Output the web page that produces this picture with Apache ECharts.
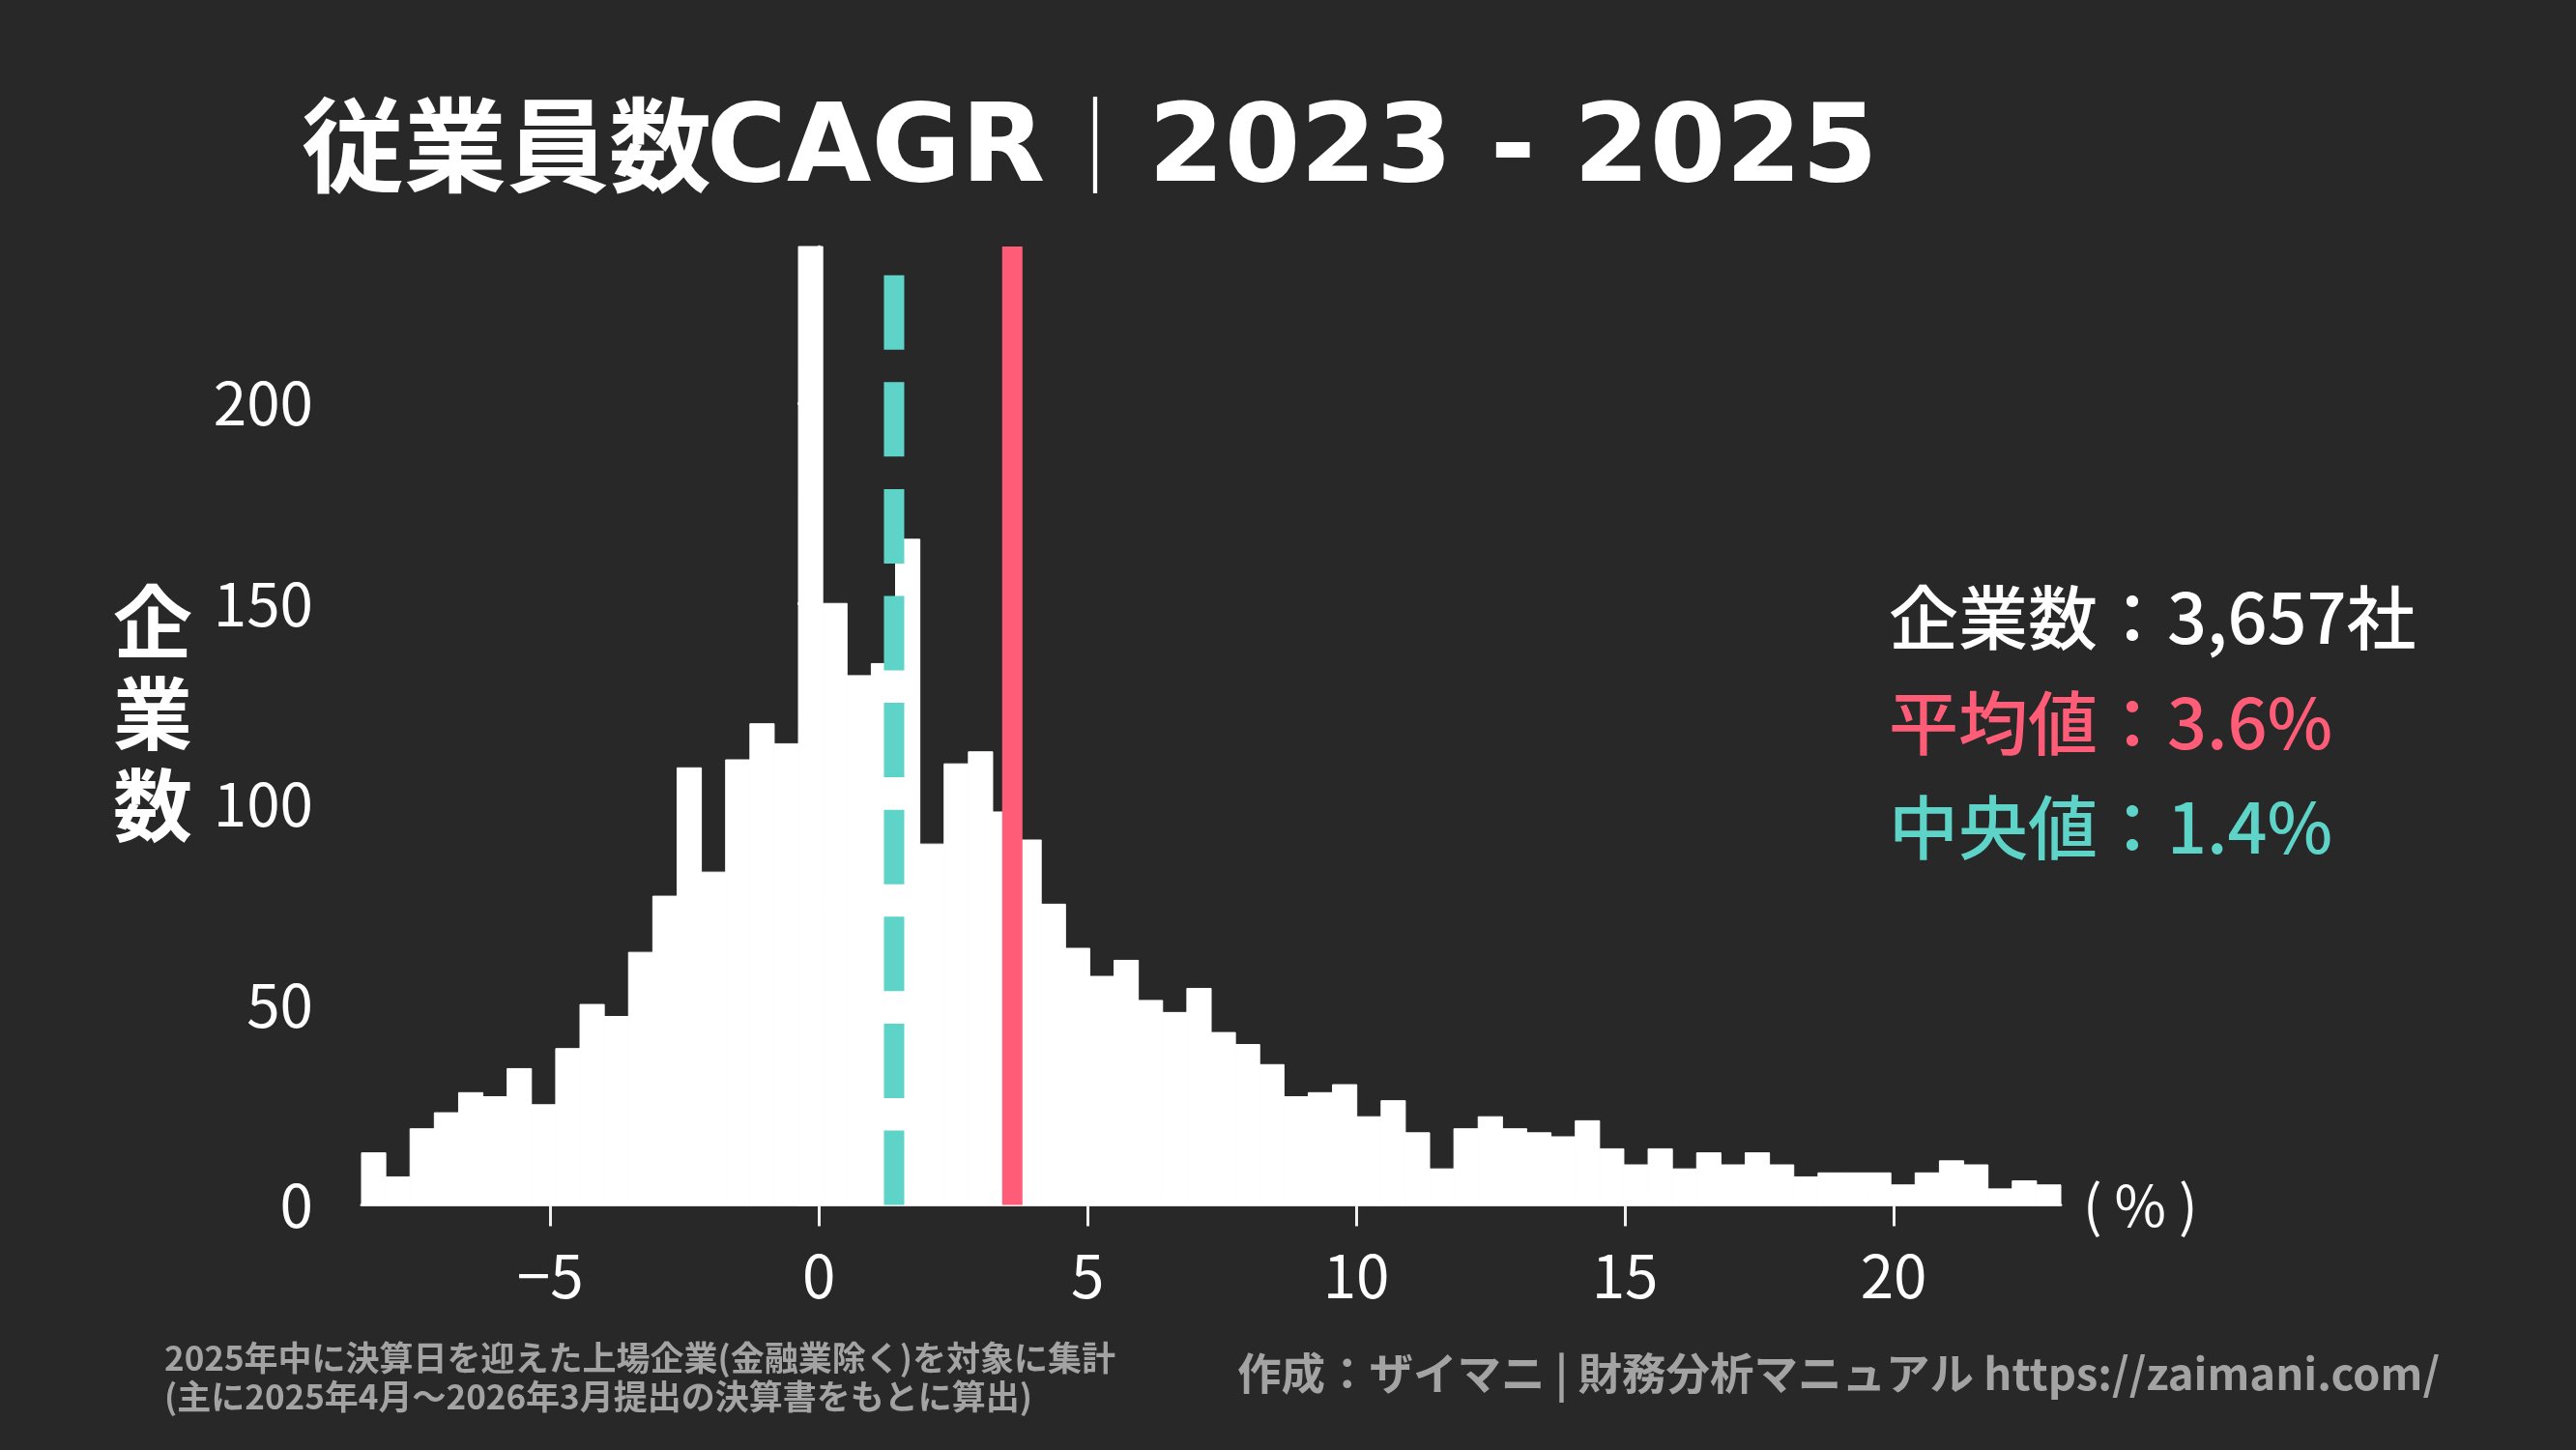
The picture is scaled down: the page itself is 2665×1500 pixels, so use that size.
<!DOCTYPE html>
<html lang="ja">
<head>
<meta charset="UTF-8">
<title>従業員数CAGR｜2023 - 2025</title>
<script src="https://cdn.jsdelivr.net/npm/echarts@6/dist/echarts.min.js"></script>
<style>
  html, body { margin: 0; padding: 0; background: #282828; }
  #chart { width: 2665px; height: 1500px; }
</style>
</head>
<body>
<div id="chart"></div>
<script>
// histogram range (CAGR %) and bin counts
var binMin = -8.51;
var binMax = 23.11;
var counts = [
  13, 7, 19, 23, 28, 27, 34, 25, 39, 50,
  47, 63, 77, 109, 83, 111, 120, 115, 239, 150,
  132, 135, 166, 90, 110, 113, 98, 91, 75, 64,
  57, 61, 51, 48, 54, 43, 40, 35, 27, 28,
  30, 22, 26, 18, 9, 19, 22, 19, 18, 17,
  21, 14, 10, 14, 9, 13, 10, 13, 10, 7,
  8, 8, 8, 5, 8, 11, 10, 4, 6, 5
]; // the bar at 0% runs past the top of the axis, so it is shown clipped
var yMax = 239;
var xTicks = [-5, 0, 5, 10, 15, 20];
var yTicks = [0, 50, 100, 150, 200];
var meanValue = 3.6;
var medianValue = 1.4;
var companyCount = '3,657';

var FONT = '"Noto Sans CJK JP", "Noto Sans", sans-serif';
var LATIN = '"DejaVu Sans", "Noto Sans CJK JP", sans-serif';
var RED = '#ff5c77';
var TEAL = '#5ed3c8';
var GREY = '#a3a3a3';

var binWidth = (binMax - binMin) / counts.length;
var bins = counts.map(function (c, i) {
  return [binMin + i * binWidth, binMin + (i + 1) * binWidth, c];
});

var chart = echarts.init(document.getElementById('chart'));

var option = {
  backgroundColor: '#282828',
  animation: false,
  grid: { left: 374, right: 533, top: 255, bottom: 253.5 },
  xAxis: {
    type: 'value',
    min: binMin,
    max: binMax,
    splitLine: { show: false },
    axisLine: { lineStyle: { color: '#e0e0e0', width: 3 } },
    axisTick: { show: true, length: 22, lineStyle: { color: '#f0f0f0', width: 3 }, customValues: xTicks },
    axisLabel: {
      color: '#ffffff', fontFamily: FONT, fontSize: 62, margin: 42,
      customValues: xTicks,
      formatter: function (v) { return v < 0 ? '\u2212' + Math.abs(v) : String(v); }
    }
  },
  yAxis: {
    type: 'value',
    min: 0,
    max: yMax,
    splitLine: { show: false },
    axisLine: { show: true, lineStyle: { color: '#e0e0e0', width: 3 } },
    axisTick: { show: true, length: 22, lineStyle: { color: '#f0f0f0', width: 3 }, customValues: yTicks },
    axisLabel: {
      color: '#ffffff', fontFamily: FONT, fontSize: 62, margin: 50,
      customValues: yTicks
    }
  },
  series: [
    {
      type: 'custom',
      data: bins,
      encode: { x: [0, 1], y: 2 },
      z: 1,
      renderItem: function (params, api) {
        var p0 = api.coord([api.value(0), api.value(2)]);
        var p1 = api.coord([api.value(1), 0]);
        return {
          type: 'rect',
          shape: { x: p0[0], y: p0[1], width: p1[0] - p0[0], height: p1[1] - p0[1] },
          style: { fill: '#ffffff', stroke: '#ffffff', lineWidth: 1 }
        };
      }
    },
    {
      type: 'line',
      data: [[medianValue, 0], [medianValue, yMax]],
      symbol: 'none',
      silent: true,
      z: 5,
      lineStyle: { color: TEAL, width: 21, type: [77, 33.6], cap: 'butt' }
    },
    {
      type: 'line',
      data: [[meanValue, 0], [meanValue, yMax]],
      symbol: 'none',
      silent: true,
      z: 6,
      lineStyle: { color: RED, width: 21, type: 'solid', cap: 'butt' }
    }
  ],
  graphic: [
    // title, in pieces so each part sits where it does in the original
    { type: 'text', x: 312, y: 150, style: { text: '従業員数', fill: '#fff', font: 'bold 106px ' + FONT, verticalAlign: 'middle' } },
    { type: 'text', x: 731, y: 158, style: { text: 'CAGR', fill: '#fff', font: 'bold 113px ' + LATIN, verticalAlign: 'middle' } },
    { type: 'text', x: 1133, y: 150, style: { text: '｜', fill: '#fff', font: 'normal 100px ' + FONT, align: 'center', verticalAlign: 'middle' } },
    { type: 'text', x: 1188, y: 158, style: { text: '2023 - 2025', fill: '#fff', font: 'bold 113px ' + LATIN, verticalAlign: 'middle' } },

    { type: 'text', x: 158, y: 738, style: { text: '企\n業\n数', fill: '#fff', font: 'bold 82px ' + FONT, lineHeight: 95, align: 'center', verticalAlign: 'middle' } },
    { type: 'text', x: 2155, y: 1247, style: { text: '( % )', fill: '#fff', font: 'normal 58px ' + FONT, verticalAlign: 'middle' } },

    { type: 'text', x: 1954, y: 639, style: { text: '企業数：' + companyCount + '社', fill: '#fff', font: '500 72px ' + FONT, verticalAlign: 'middle' } },
    { type: 'text', x: 1954, y: 748, style: { text: '平均値：' + meanValue + '%', fill: RED, font: '500 72px ' + FONT, verticalAlign: 'middle' } },
    { type: 'text', x: 1954, y: 856, style: { text: '中央値：' + medianValue + '%', fill: TEAL, font: '500 72px ' + FONT, verticalAlign: 'middle' } },

    { type: 'text', x: 170, y: 1405, style: { text: '2025年中に決算日を迎えた上場企業(金融業除く)を対象に集計', fill: GREY, font: 'bold 35px ' + FONT, verticalAlign: 'middle' } },
    { type: 'text', x: 170, y: 1445, style: { text: '(主に2025年4月〜2026年3月提出の決算書をもとに算出)', fill: GREY, font: 'bold 35px ' + FONT, verticalAlign: 'middle' } },
    { type: 'text', x: 2524, y: 1421, style: { text: '作成：ザイマニ | 財務分析マニュアル https://zaimani.com/', fill: GREY, font: 'bold 45.5px ' + FONT, align: 'right', verticalAlign: 'middle' } }
  ]
};

chart.setOption(option);
</script>
</body>
</html>
